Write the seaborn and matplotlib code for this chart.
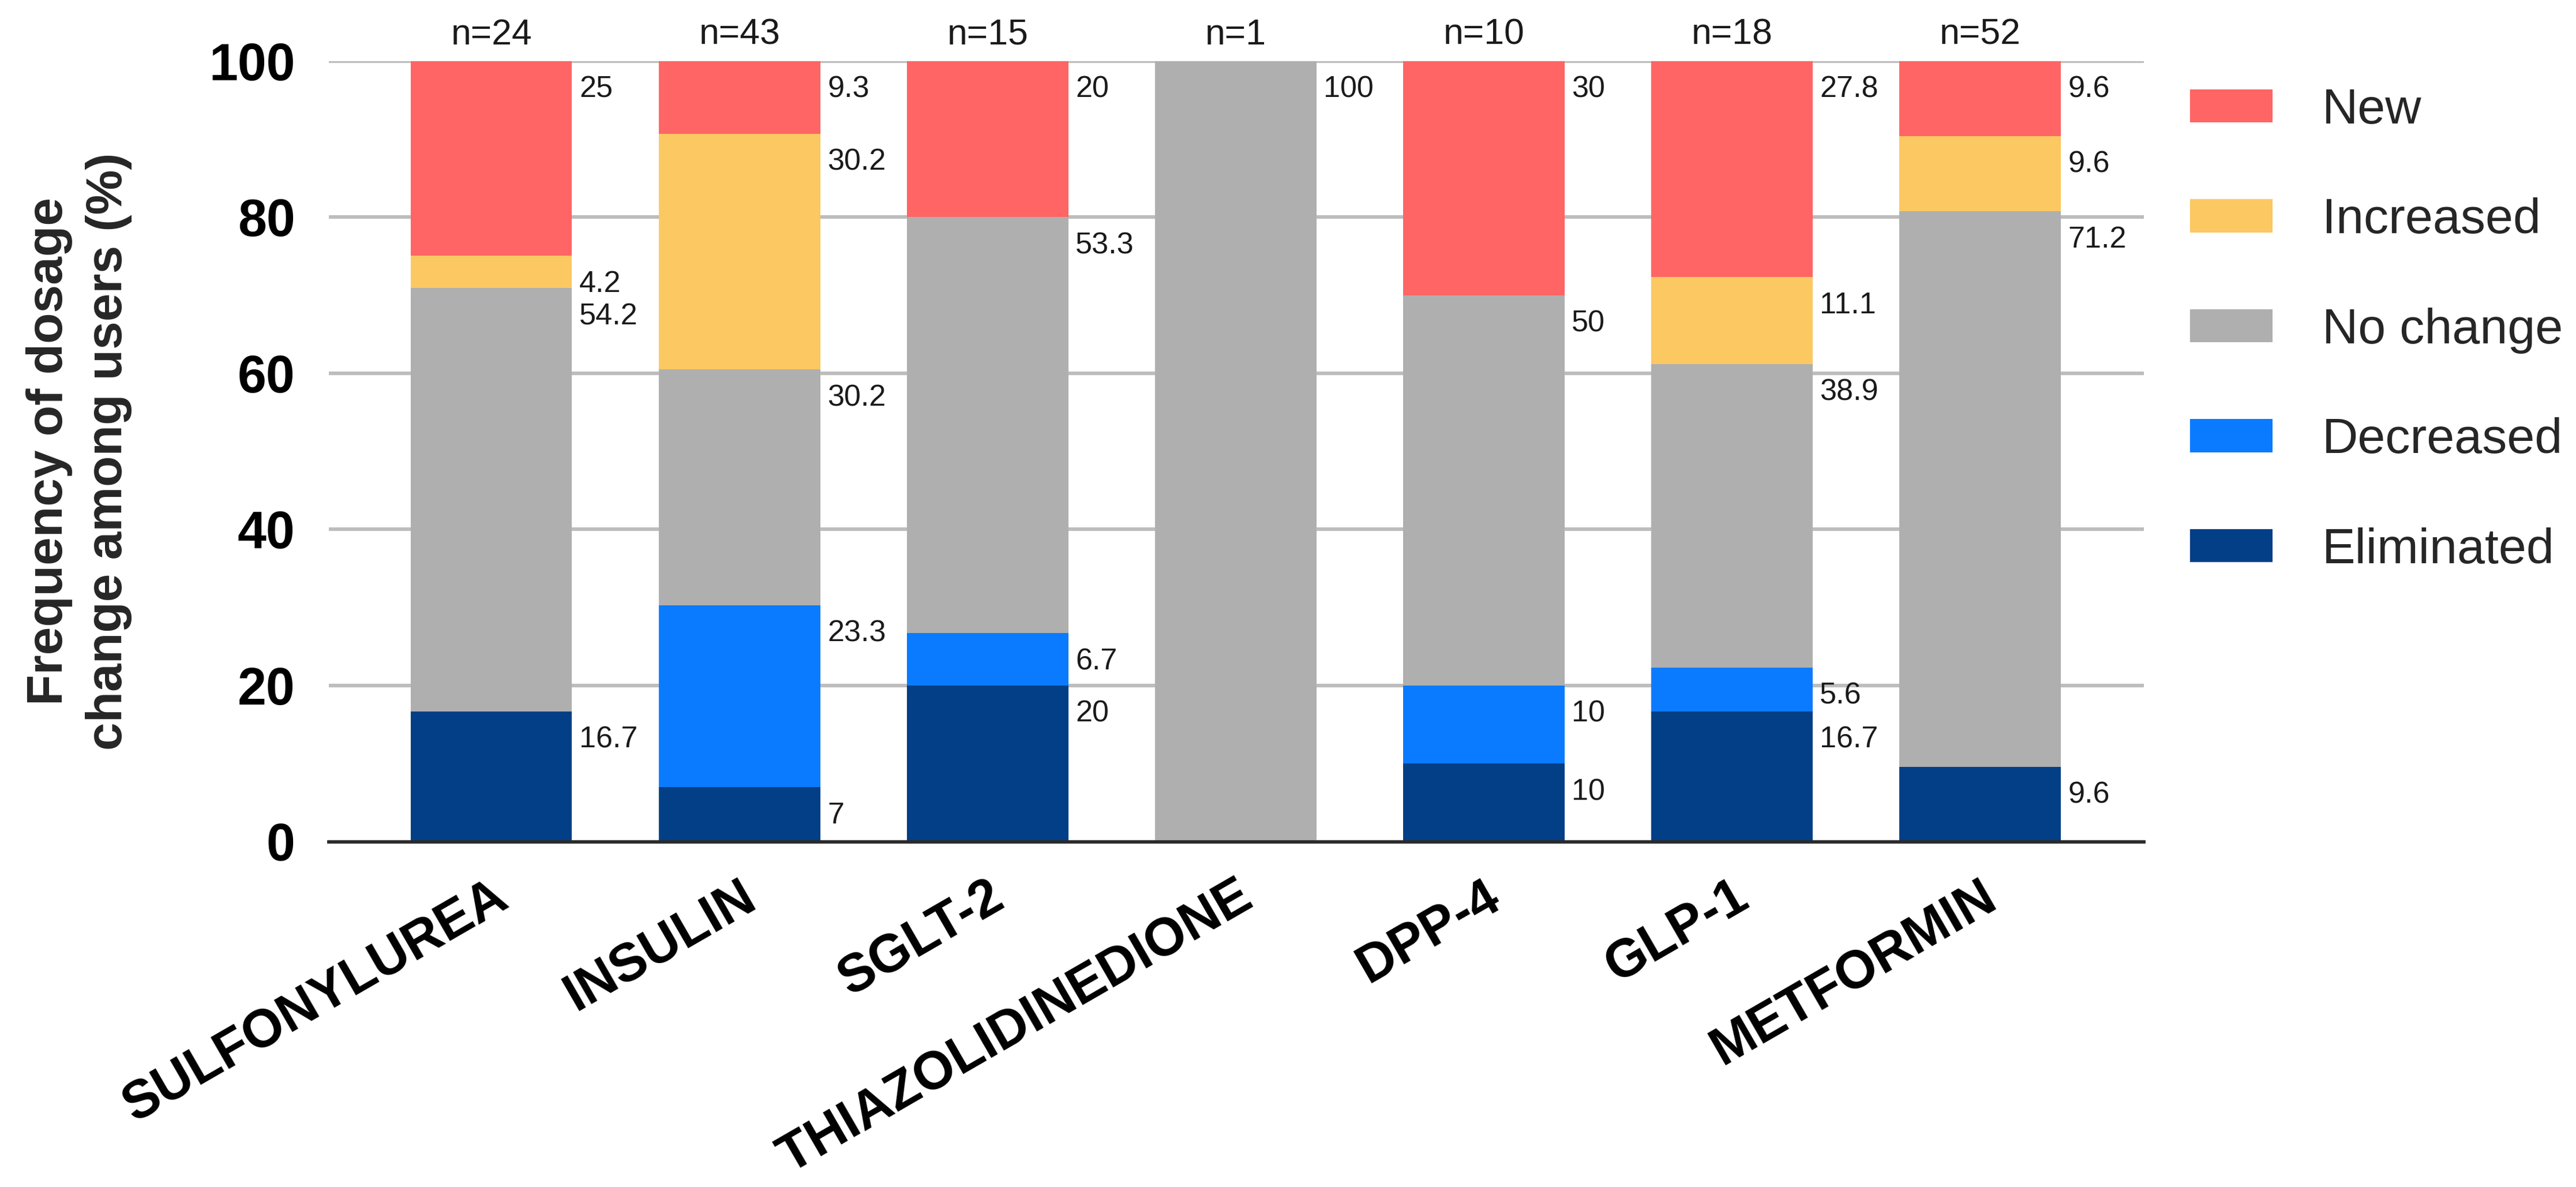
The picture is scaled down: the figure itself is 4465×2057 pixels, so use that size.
import matplotlib
matplotlib.use("Agg")
import matplotlib.pyplot as plt
import numpy as np
import pandas as pd
import seaborn as sns
from matplotlib.patches import Patch

# Drug classes and number of users of each
drugs = ["SULFONYLUREA", "INSULIN", "SGLT-2", "THIAZOLIDINEDIONE", "DPP-4", "GLP-1", "METFORMIN"]
n_users = [24, 43, 15, 1, 10, 18, 52]

# Share of users (%) in each dosage-change group, per drug class
eliminated = [16.7, 7, 20, 0, 10, 16.7, 9.6]
decreased = [0, 23.3, 6.7, 0, 10, 5.6, 0]
no_change = [54.2, 30.2, 53.3, 100, 50, 38.9, 71.2]
increased = [4.2, 30.2, 0, 0, 0, 11.1, 9.6]
new = [25, 9.3, 20, 0, 30, 27.8, 9.6]

groups = ["Eliminated", "Decreased", "No change", "Increased", "New"]  # stacking order, bottom to top
legend_order = ["New", "Increased", "No change", "Decreased", "Eliminated"]
palette = {
    "New": "#FF6565",
    "Increased": "#FBC862",
    "No change": "#AFAFAF",
    "Decreased": "#0A7BFF",
    "Eliminated": "#023F86",
}

df = pd.DataFrame({
    "drug": drugs,
    "Eliminated": eliminated,
    "Decreased": decreased,
    "No change": no_change,
    "Increased": increased,
    "New": new,
})
cum = df[groups].cumsum(axis=1)

sns.set_theme(style="white")
plt.rcParams["font.family"] = ["Liberation Sans", "DejaVu Sans"]

W, H, DPI = 4465, 2057, 300
fig = plt.figure(figsize=(W / DPI, H / DPI), dpi=DPI)
left, right, top, bottom = 570, 3716, 105.8, 1458.5
ax = fig.add_axes([left / W, 1 - bottom / H, (right - left) / W, (bottom - top) / H])

bar_w = 0.65
# stacked bars: draw cumulative totals from the top group down
for g in reversed(groups):
    sns.barplot(x=df["drug"], y=cum[g], order=drugs, color=palette[g], width=bar_w,
                saturation=1, linewidth=0, edgecolor="none", ax=ax, zorder=2)

ax.set_xlim(-0.655, 6.66)
ax.set_ylim(0, 100)
ax.set_xlabel("")
ax.set_ylabel("")

# grid and spines
ax.set_axisbelow(True)
ax.yaxis.grid(True, color="#BDBDBD", linewidth=1.5)
ax.xaxis.grid(False)
for s in ["left", "right", "top"]:
    ax.spines[s].set_visible(False)
ax.spines["bottom"].set_color("#2a2a2a")
ax.spines["bottom"].set_linewidth(1.4)
ax.spines["bottom"].set_zorder(5)

ax.set_yticks([0, 20, 40, 60, 80, 100])
ax.tick_params(axis="y", length=0, pad=14, labelsize=21.5)
ax.tick_params(axis="x", length=0, pad=12.5, labelsize=22)
for lab in ax.get_yticklabels():
    lab.set_fontweight("bold")
    lab.set_color("black")
ax.set_xticks(range(len(drugs)))
ax.set_xticklabels(drugs, rotation=30, ha="right", va="top", rotation_mode="anchor",
                   fontweight="bold", color="black")

# value labels to the right of each segment
for i, d in enumerate(drugs):
    for g in groups:
        v = df.loc[i, g]
        if v <= 0:
            continue
        seg_top = min(cum.loc[i, g], 100)
        ax.annotate(f"{v:g}", xy=(i + bar_w / 2, seg_top), xytext=(3, -6),
                    textcoords="offset points", ha="left", va="top",
                    fontsize=12.5, color="#1a1a1a", annotation_clip=False)
    ax.annotate(f"n={n_users[i]}", xy=(i, 100), xytext=(0, 7), textcoords="offset points",
                ha="center", va="baseline", fontsize=15, color="#1a1a1a",
                annotation_clip=False)

fig.text(137 / W, 1 - 782 / H, "Frequency of dosage\nchange among users (%)",
         rotation=90, ha="center", va="center", fontsize=21, fontweight="bold",
         linespacing=1.35, multialignment="center")

handles = [Patch(facecolor=palette[g], edgecolor="none", label=g) for g in legend_order]
fig.legend(handles=handles, loc="upper left", bbox_to_anchor=(3796 / W, 1 - 152 / H),
           frameon=False, fontsize=20.7, handlelength=1.66, handleheight=0.65,
           handletextpad=0.99, labelspacing=1.28, borderpad=0, borderaxespad=0)

fig.savefig("out.png", dpi=DPI, facecolor="white")
